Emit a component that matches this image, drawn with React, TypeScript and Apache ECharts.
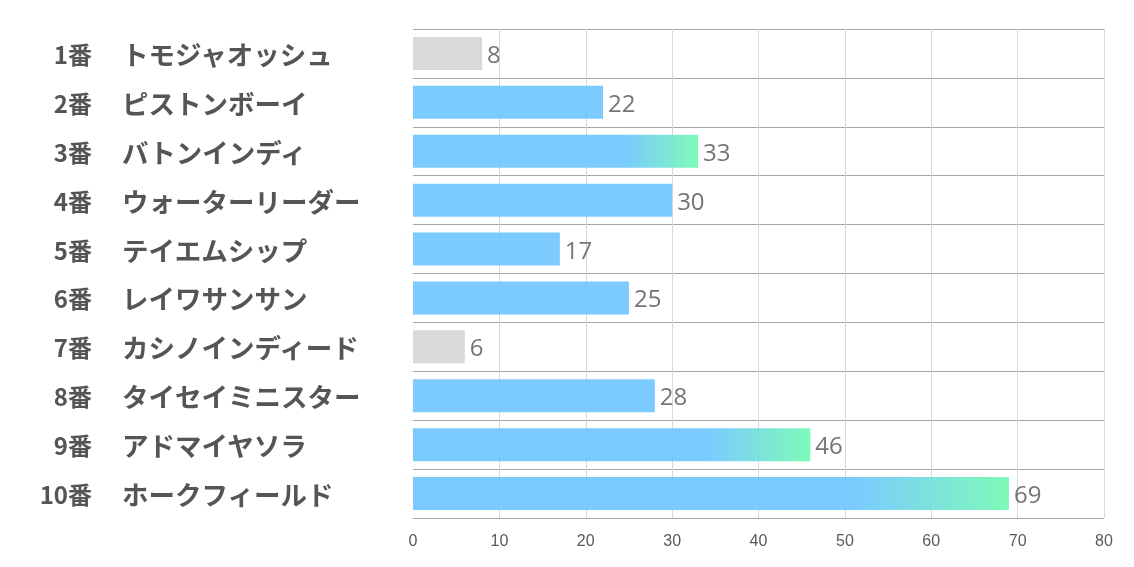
import React, { useEffect, useRef } from "react";
import * as echarts from "echarts";

const numbers = ["1番", "2番", "3番", "4番", "5番", "6番", "7番", "8番", "9番", "10番"];
const names = [
  "トモジャオッシュ",
  "ピストンボーイ",
  "バトンインディ",
  "ウォーターリーダー",
  "テイエムシップ",
  "レイワサンサン",
  "カシノインディード",
  "タイセイミニスター",
  "アドマイヤソラ",
  "ホークフィールド",
];
const values = [8, 22, 33, 30, 17, 25, 6, 28, 46, 69];
const kinds = ["gray", "blue", "grad", "blue", "blue", "blue", "gray", "blue", "grad", "grad"];
const xTicks = [0, 10, 20, 30, 40, 50, 60, 70, 80];

const BLUE = "rgba(109,197,255,0.9)";
const GREEN = "rgba(119,250,180,0.95)";
const GRAY = "#d9d9d9";
const LABEL_FONT = "'Noto Sans CJK JP', sans-serif";

export default function App() {
  const ref = useRef<HTMLDivElement>(null);
  useEffect(() => {
    if (!ref.current) return;
    const chart = echarts.init(ref.current, null, { renderer: "svg" });
    const data = values.map((v, i) => {
      let color: any = BLUE;
      if (kinds[i] === "gray") color = GRAY;
      else if (kinds[i] === "grad")
        color = new echarts.graphic.LinearGradient(0, 0, 1, 0, [
          { offset: 0, color: BLUE },
          { offset: 0.74, color: BLUE },
          { offset: 1, color: GREEN },
        ]);
      return { value: v, itemStyle: { color } };
    });
    chart.setOption({
      animation: false,
      grid: { left: 413, right: 30, top: 29, bottom: 49 },
      xAxis: {
        type: "value",
        min: xTicks[0],
        max: xTicks[xTicks.length - 1],
        interval: 10,
        axisLine: { show: false },
        axisTick: { show: false },
        axisLabel: {
          margin: 14,
          color: "#595959",
          fontSize: 16,
          fontFamily: "'Liberation Sans Narrow', 'Liberation Sans', sans-serif",
        },
        splitLine: { show: true, showMinLine: false, lineStyle: { color: "#d9d9d9", width: 1 } },
      },
      yAxis: [
        {
          type: "category",
          inverse: true,
          data: numbers,
          axisLine: { show: false },
          axisTick: { show: false },
          splitLine: { show: true, lineStyle: { color: "#a6a6a6", width: 1 } },
          axisLabel: {
            align: "right",
            margin: 321,
            fontSize: 24,
            fontWeight: "bold",
            color: "#555555",
            fontFamily: LABEL_FONT,
            padding: [0, 0, 3, 0],
          },
        },
        {
          type: "category",
          inverse: true,
          position: "left",
          data: names,
          axisLine: { show: false },
          axisTick: { show: false },
          splitLine: { show: false },
          axisLabel: {
            align: "left",
            margin: 291,
            fontSize: 26.5,
            fontWeight: "bold",
            color: "#555555",
            fontFamily: LABEL_FONT,
            padding: [0, 0, 3, 0],
          },
        },
      ],
      series: [
        {
          type: "bar",
          data,
          barWidth: 33,
          yAxisIndex: 0,
          label: {
            show: true,
            position: "right",
            distance: 5,
            color: "#757575",
            fontSize: 24,
            fontFamily: "'Open Sans', sans-serif",
          },
        },
      ],
    });
    return () => chart.dispose();
  }, []);
  return (
    <div
      ref={ref}
      style={{ position: "fixed", left: 0, top: 0, width: 1134, height: 567 }}
    />
  );
}
